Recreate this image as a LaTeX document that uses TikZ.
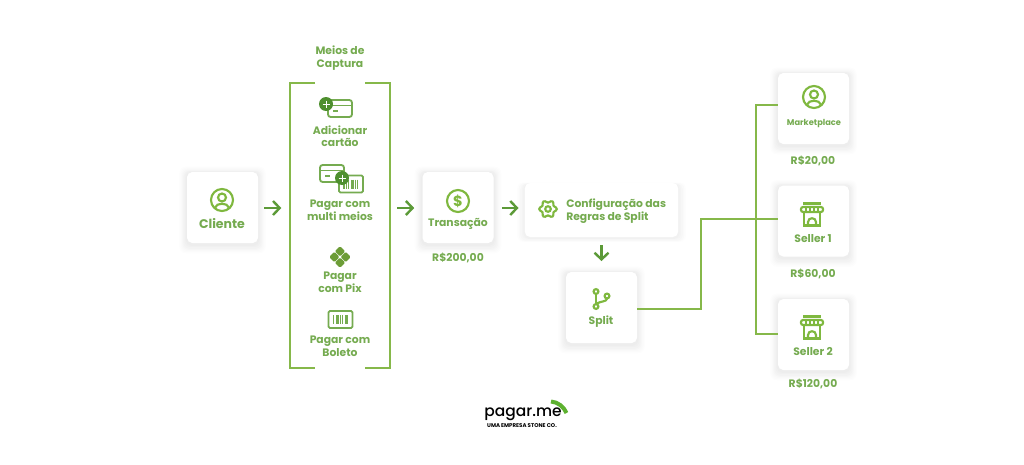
\documentclass[tikz,border=0pt]{standalone}
\usepackage{fontspec}
\setmainfont{Poppins}
\newfontfamily\logofont{Poppins Medium}
\usetikzlibrary{arrows.meta,shadows}

\begin{document}
\begin{tikzpicture}[x=.75pt,y=-.75pt]

% Define diagram colors
\definecolor{labelgreen}{HTML}{75AB50}
\definecolor{icongreen}{HTML}{7FB83F}
\definecolor{linegreen}{HTML}{86B84A}
\definecolor{arrowgreen}{HTML}{5C9A38}
\definecolor{darkgreen}{HTML}{4E8F2F}
\definecolor{logogreen}{HTML}{5DB130}

\tikzset{
softshadow/.style={
    general shadow={fill=black,opacity=.007,shadow yshift=-1.5pt,shadow scale=1.22},
    general shadow={fill=black,opacity=.008,shadow yshift=-1.5pt,shadow scale=1.19},
    general shadow={fill=black,opacity=.009,shadow yshift=-1.5pt,shadow scale=1.16},
    general shadow={fill=black,opacity=.010,shadow yshift=-1.5pt,shadow scale=1.13},
    general shadow={fill=black,opacity=.011,shadow yshift=-1.5pt,shadow scale=1.10},
    general shadow={fill=black,opacity=.012,shadow yshift=-1pt,shadow scale=1.07},
    general shadow={fill=black,opacity=.012,shadow yshift=-1pt,shadow scale=1.04}},
wideshadow/.style={
    general shadow={fill=black,opacity=.008,shadow yshift=-1.5pt,shadow scale=1.10},
    general shadow={fill=black,opacity=.010,shadow yshift=-1.5pt,shadow scale=1.08},
    general shadow={fill=black,opacity=.012,shadow yshift=-1.5pt,shadow scale=1.06},
    general shadow={fill=black,opacity=.012,shadow yshift=-1pt,shadow scale=1.04},
    general shadow={fill=black,opacity=.012,shadow yshift=-1pt,shadow scale=1.02}},
tilebase/.style={fill=white,rounded corners=4pt,inner sep=0pt},
tile/.style={tilebase,softshadow,minimum width=53.25pt,minimum height=53.25pt},
widetile/.style={tilebase,wideshadow,minimum width=115pt,minimum height=40.5pt},
label/.style={text=labelgreen,font=\bfseries\fontsize{8.1}{9.4}\selectfont,align=center,inner sep=0pt},
biglabel/.style={label,font=\bfseries\fontsize{9.4}{11}\selectfont},
value/.style={label,font=\bfseries\fontsize{8.1}{9.4}\selectfont},
flow/.style={draw=arrowgreen,line width=1.8pt,-{Straight Barb[length=5pt,width=10.5pt,line width=1.8pt]}},
wire/.style={draw=linegreen,line width=1.6pt},
ic/.style={draw=icongreen,line width=1.6pt},
icd/.style={draw=labelgreen,line width=1.4pt},
pics/usericon/.style={code={
    \draw[ic] (0,0) circle (11);
    \draw[ic] (0,-2.5) circle (4);
    \draw[ic] (-6.8,7.5) .. controls (-6,2.5) and (6,2.5) .. (6.8,7.5);}},
pics/shopicon/.style={code={
    \draw[ic] (-9,-11) -- (9,-11);
    \draw[ic,rounded corners=1.5pt] (-11,-7.5) rectangle (11,-2.5);
    \foreach \sx in {-6,-2,2,6} {\draw[icongreen,line width=1.2pt] (\sx,-7) -- (\sx,-3);}
    \draw[ic] (-8,-2) -- (-8,11) -- (8,11) -- (8,-2);
    \draw[ic] (-4,11) -- (-4,7.5) .. controls (-4,2.5) and (4,2.5) .. (4,7.5) -- (4,11);}},
pics/barcodebox/.style={code={
    \draw[icd,fill=white,rounded corners=1pt] (-12,-8.5) rectangle (12,8.5);
    \foreach \bx/\bw in {-7/1.4,-4.5/.7,-2.5/1.4,0/.7,2/1.4,4.5/.7,6.5/1.4} {\draw[labelgreen,line width=\bw pt] (\bx,-4.5) -- (\bx,4.5);}}},
pics/cardicon/.style={code={
    \draw[icd,fill=white,rounded corners=2pt] (-12,-8.5) rectangle (12,8.5);
    \draw[icd] (-12,-3) -- (12,-3);
    \draw[icd] (-7,2.5) -- (-2,2.5);}},
pics/plusdot/.style={code={
    \fill[darkgreen] (0,0) circle (7);
    \draw[white,line width=.7pt] (-3.5,0) -- (3.5,0) (0,-3.5) -- (0,3.5);}}
}

% Boxes
\node [tile] (cliente) at (222.5,207.5) {};
\node [tile] (transacao) at (458,207.5) {};
\node [widetile] (config) at (601.5,210) {};
\node [tile] (split) at (601.5,307.5) {};
\node [tile] (marketplace) at (813.5,108.5) {};
\node [tile] (seller1) at (813.5,221) {};
\node [tile] (seller2) at (813.5,334.5) {};

% Bracket of the capture block
\coordinate (bracketL) at (290,208);
\coordinate (bracketR) at (390,208);
\draw[wire,line width=1.7pt] (315,83) -- (290,83) -- (290,368) -- (315,368);
\draw[wire,line width=1.7pt] (365,83) -- (390,83) -- (390,368) -- (365,368);

% Arrows
\draw[flow,shorten <=4.5pt,shorten >=6.5pt] (cliente.east |- bracketL) -- (bracketL);
\draw[flow,shorten <=5.5pt,shorten >=6pt] (bracketR) -- (bracketR -| transacao.west);
\draw[flow,shorten <=6pt,shorten >=4.5pt] (transacao.east |- bracketL) -- (bracketL -| config.west);
\draw[flow,shorten <=6pt,shorten >=8pt] (config.south) -- (split.north);

% Wires to the receivers
\coordinate (splitout) at (split.east |- 0,309);
\coordinate (sellerin) at (seller1.west |- 0,219);
\coordinate (marketin) at (marketplace.west |- 0,105);
\coordinate (seller2in) at (seller2.west |- 0,334);
\draw[wire] (splitout) -- (701,309) -- (701,219) -- (sellerin);
\draw[wire] (marketin) -- (756,105) -- (756,334) -- (seller2in);

% Icons
\pic at (222,200) {usericon};
\draw[ic] (458,201) circle (11);
\node [text=icongreen,font=\bfseries\fontsize{11}{11}\selectfont,inner sep=0pt] (dollar) at (458,201) {\$};
\draw[ic] plot[smooth cycle,samples=36,domain=0:350] ({548+(7.6+1.2*cos(6*\x))*cos(\x)},{209+(7.6+1.2*cos(6*\x))*sin(\x)});
\draw[ic] (548,209) circle (2.8);
\begin{scope}[shift={(601,298)}]
\draw[ic] (-5,-6.5) circle (2.4) (-5,8.5) circle (2.4) (6,-2) circle (2.4);
\draw[ic] (-5,-4) -- (-5,6);
\draw[ic] (6,.5) .. controls (6,4) and (-1,3) .. (-5,6);
\end{scope}
\pic at (814,97) {usericon};
\pic at (812,214.5) {shopicon};
\pic at (812,327.5) {shopicon};

\pic at (340,108.5) {cardicon};
\pic at (326,104) {plusdot};
\pic at (332,173.5) {cardicon};
\pic at (351,184) {barcodebox};
\pic at (342,178) {plusdot};
\foreach \dx/\dy in {0/-5.7,5.7/0,0/5.7,-5.7/0} {
    \fill[icongreen!85!black,shift={(340+\dx,257+\dy)},rounded corners=1pt] (0,-5.2) -- (5.2,0) -- (0,5.2) -- (-5.2,0) -- cycle;}
\pic at (340.5,319.5) {barcodebox};

% Texts
\node [label] (meios) at (340,58) {Meios de\\Captura};
\node [label] (adicionar) at (340,136) {Adicionar\\cartão};
\node [label] (multi) at (340,210.5) {Pagar com\\multi meios};
\node [label] (pix) at (340,282.5) {Pagar\\com Pix};
\node [label] (boleto) at (340,346.5) {Pagar com\\Boleto};
\node [biglabel] (clientetext) at (222,224) {Cliente};
\node [label] (transacaotext) at (458,223.5) {Transação};
\node [value] (total) at (458,257.5) {R\$200,00};
\node [label,align=left,anchor=west] (configtext) at (566,211) {Configuração das\\Regras de Split};
\node [label] (splittext) at (601,322) {Split};
\node [label,font=\bfseries\fontsize{6.2}{7}\selectfont] (markettext) at (814,124) {Marketplace};
\node [value] (marketvalue) at (813,161) {R\$20,00};
\node [label] (seller1text) at (813,239) {Seller 1};
\node [value] (seller1value) at (813,274) {R\$60,00};
\node [label] (seller2text) at (813,352) {Seller 2};
\node [value] (seller2value) at (813,384) {R\$120,00};

% Logo
\node [text=black,font=\logofont\fontsize{11.6}{12}\selectfont,inner sep=0pt] (logo) at (523,414) {pagar.me};
\node [text=black,font=\bfseries\fontsize{4.1}{5}\selectfont,inner sep=0pt] (logosub) at (522,426) {UMA EMPRESA STONE CO.};
\draw[logogreen,line width=3pt] (551,401.5) .. controls (558,402) and (564,407) .. (566.5,413);

\useasboundingbox (0,0) rectangle (1024,464);
\end{tikzpicture}
\end{document}
